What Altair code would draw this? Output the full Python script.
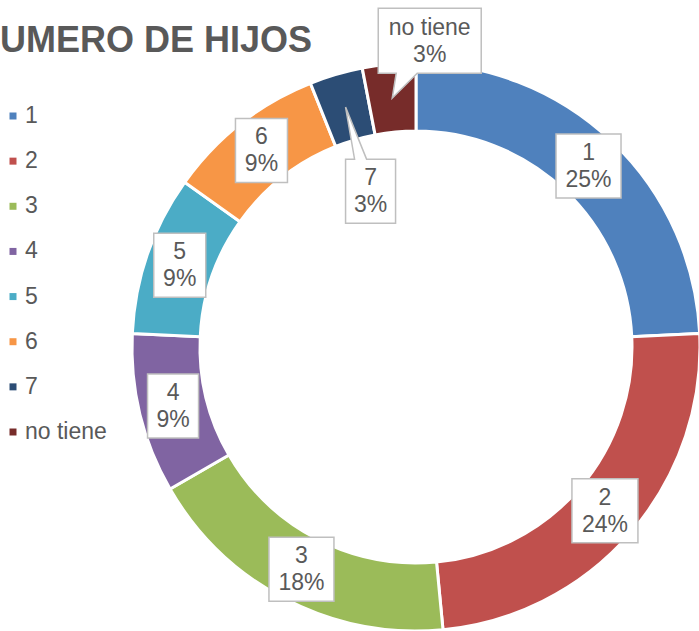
import altair as alt
import pandas as pd

# ---- data ----
cats = ["1", "2", "3", "4", "5", "6", "7", "no tiene"]
counts = [8, 8, 6, 3, 3, 3, 1, 1]
pct_labels = ["25%", "24%", "18%", "9%", "9%", "9%", "3%", "3%"]
title_text = "NUMERO DE HIJOS"

# ---- style / layout ----
colors = ["#4F81BD", "#C0504D", "#9BBB59", "#8064A2", "#4BACC6", "#F79646", "#2C4D75", "#772C2A"]
W, H = 699, 631
CX, CY = 416, 347
R_OUT, R_IN, R_LAB = 284, 216, 250
TXT = "#595959"
FONT = "Liberation Sans"
LBL_SIZE = 23
TITLE_SIZE = 36
U = 32.0  # pixels per path unit for symbol size 4096
box_w = {"1": 65, "2": 66, "3": 65, "4": 51, "5": 52, "6": 52}
BOX_H = 64
callout_off = {"7": (25, 84), "no tiene": (37.5, -57.5)}


def p(v):
    return f"{v / U:.4f}"


def rect_path(w, h):
    return f"M{p(-w/2)},{p(-h/2)}H{p(w/2)}V{p(h/2)}H{p(-w/2)}Z"


paths = [rect_path(box_w[c], BOX_H) for c in cats[:6]]
# callout for "7": box below-right of tip, pointer from top edge
paths.append(f"M{p(0)},{p(52)}H{p(9)}L{p(0)},{p(0)}L{p(21)},{p(52)}H{p(50)}V{p(116)}H{p(0)}Z")
# callout for "no tiene": box above-right of tip, pointer from bottom edge
paths.append(f"M{p(-14)},{p(-90)}H{p(89)}V{p(-25)}H{p(25)}L{p(0)},{p(0)}L{p(4)},{p(-25)}H{p(-14)}Z")

df = pd.DataFrame({
    "cat": cats,
    "val": counts,
    "pct": pct_labels,
    "idx": list(range(len(cats))),
})
df["lab"] = [f"{c}\n{q}" for c, q in zip(cats, pct_labels)]
df["ox"] = [callout_off.get(c, (0, 0))[0] for c in cats]
df["oy"] = [callout_off.get(c, (0, 0))[1] for c in cats]

color_scale = alt.Scale(domain=cats, range=colors)

base = (
    alt.Chart(df)
    .transform_joinaggregate(total="sum(val)")
    .transform_window(cum="sum(val)", sort=[alt.SortField("idx")], frame=[None, 0])
    .transform_calculate(
        f0="(datum.cum - datum.val) / datum.total",
        f1="datum.cum / datum.total",
        mid="(datum.cum - datum.val / 2) / datum.total * 2 * PI",
    )
    .transform_calculate(
        bx=f"{CX} + {R_LAB} * sin(datum.mid)",
        by=f"{CY} - {R_LAB} * cos(datum.mid)",
    )
    .transform_calculate(
        tx="datum.bx + datum.ox",
        ty="datum.by + datum.oy",
    )
)

arcs = base.mark_arc(
    outerRadius=R_OUT, innerRadius=R_IN, stroke="white", strokeWidth=3
).encode(
    theta=alt.Theta("f0:Q", scale=alt.Scale(domain=[0, 1]), stack=False),
    theta2="f1:Q",
    color=alt.Color("cat:N", scale=color_scale, legend=None),
    x=alt.value(CX),
    y=alt.value(CY),
)

boxes = base.mark_point(
    filled=True, fill="white", stroke="#BFBFBF", strokeWidth=1.5, opacity=1, fillOpacity=1, strokeOpacity=1
).encode(
    x=alt.X("bx:Q", scale=None),
    y=alt.Y("by:Q", scale=None),
    shape=alt.Shape("cat:N", scale=alt.Scale(domain=cats, range=paths), legend=None),
    size=alt.value(4096),
)

labels = base.mark_text(
    font=FONT, fontSize=LBL_SIZE, color=TXT, align="center", baseline="middle",
    lineBreak="\n", lineHeight=27, dy=-13,
).encode(
    x=alt.X("tx:Q", scale=None),
    y=alt.Y("ty:Q", scale=None),
    text="lab:N",
)

leg_y = alt.Y("cat:N", scale=alt.Scale(type="point", domain=cats, range=[116, 432], padding=0), axis=None)

leg_sq = alt.Chart(df).mark_square(size=49, opacity=1).encode(
    x=alt.value(13),
    y=leg_y,
    color=alt.Color("cat:N", scale=color_scale, legend=None),
)

leg_txt = alt.Chart(df).mark_text(
    font=FONT, fontSize=LBL_SIZE, color=TXT, align="left", baseline="middle"
).encode(
    x=alt.value(25),
    y=leg_y,
    text="cat:N",
)

title = alt.Chart(pd.DataFrame({"t": [title_text]})).mark_text(
    font=FONT, fontSize=TITLE_SIZE, fontWeight="bold", color=TXT, align="left", baseline="alphabetic"
).encode(
    x=alt.value(-0.722 * TITLE_SIZE),
    y=alt.value(52),
    text="t:N",
)

chart = (
    alt.layer(arcs, boxes, labels, leg_sq, leg_txt, title)
    .resolve_scale(x="independent", y="independent", color="shared")
    .properties(width=W, height=H, autosize=alt.AutoSizeParams(type="none"), padding=0, background="white")
    .configure_view(stroke=None)
)

chart.save("out.html", embed_options={"renderer": "svg", "actions": False})
